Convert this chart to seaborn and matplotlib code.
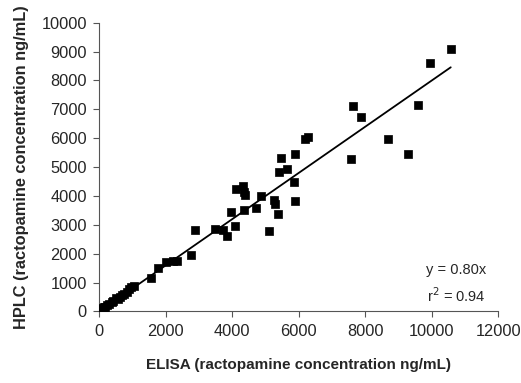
import numpy as np
import pandas as pd
import matplotlib
matplotlib.use('Agg')
import matplotlib.pyplot as plt
import seaborn as sns

# ELISA vs HPLC ractopamine concentrations (ng/mL)
elisa = [10570, 9950, 9580, 7620, 7880, 8690, 9280, 7580,
         6290, 6190, 5890, 5460, 5400, 5640, 5860, 5890,
         4110, 4310, 4360, 4380, 4850, 5260, 5280, 5380,
         5100, 4700, 4360, 3970, 4070, 3710, 3850, 3480,
         2890, 2760, 2330, 2210, 2010, 1770, 1550, 1050,
         940, 750, 620, 490, 370, 240, 140, 70, 50,
         100, 180, 300, 420, 560, 680, 820, 900]
hplc = [9090, 8620, 7150, 7110, 6740, 5960, 5460, 5280,
        6030, 5990, 5440, 5320, 4840, 4950, 4470, 3830,
        4240, 4330, 4150, 4020, 4000, 3860, 3710, 3360,
        2790, 3570, 3520, 3450, 2960, 2820, 2620, 2850,
        2810, 1950, 1760, 1760, 1700, 1510, 1170, 870,
        850, 620, 510, 480, 330, 220, 160, 110, 50,
        80, 150, 260, 380, 440, 560, 690, 780]
slope = 0.80
r2 = 0.94

df = pd.DataFrame({'elisa': elisa, 'hplc': hplc})

sns.set_theme(style='white')
plt.rcParams['font.family'] = ['Liberation Sans', 'DejaVu Sans']

fig = plt.figure(figsize=(5.21, 3.83), dpi=100)
ax = fig.add_axes([0.1906, 0.1867, 0.7658, 0.754])

sns.scatterplot(data=df, x='elisa', y='hplc', ax=ax, marker='s', s=36,
                color='black', edgecolor='black', linewidth=0.5, zorder=3)

# trend line through origin
x_fit = np.array([0, df['elisa'].max()])
sns.lineplot(x=x_fit, y=slope * x_fit, ax=ax, color='black', linewidth=1.3, zorder=2)

ax.set_xlim(0, 12000)
ax.set_ylim(0, 10000)
ax.set_xticks(np.arange(0, 12001, 2000))
ax.set_yticks(np.arange(0, 10001, 1000))
ax.tick_params(axis='both', which='major', labelsize=11.8, length=4, width=0.8,
               color='#555555', direction='out', bottom=True, left=True, pad=5)

for side in ['top', 'right']:
    ax.spines[side].set_visible(False)
for side in ['left', 'bottom']:
    ax.spines[side].set_color('#555555')
    ax.spines[side].set_linewidth(0.8)

ax.set_xlabel('ELISA (ractopamine concentration ng/mL)', fontsize=11,
              fontweight='bold', labelpad=14)
ax.set_ylabel('HPLC (ractopamine concentration ng/mL)', fontsize=11.8,
              fontweight='bold', labelpad=9)

ax.text(0.895, 0.145, 'y = 0.80x', transform=ax.transAxes, fontsize=10.5,
        ha='center', va='center')
ax.text(0.895, 0.055, 'r$^2$ = %.2f' % r2, transform=ax.transAxes, fontsize=10.5,
        ha='center', va='center')

fig.savefig('out.png', dpi=100)
